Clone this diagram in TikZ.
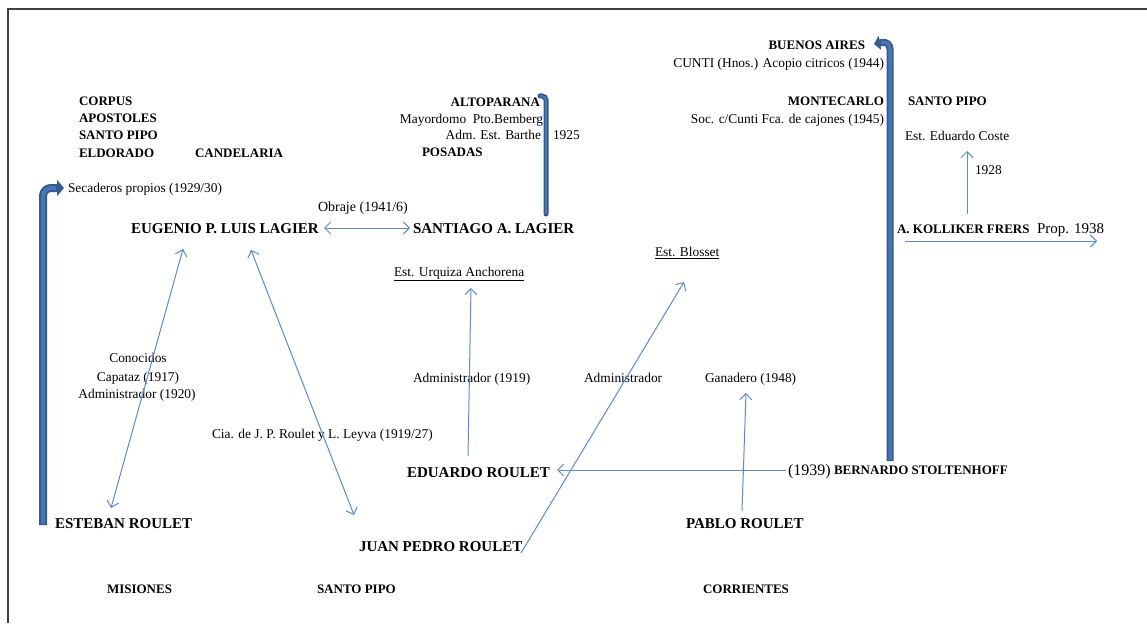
\documentclass[tikz,border=0pt]{standalone}
\usepackage{fontspec}
\setmainfont{Liberation Serif}
\usetikzlibrary{arrows.meta}
\definecolor{lblue}{HTML}{5A8BCB}
\definecolor{dblue}{HTML}{33598E}
\definecolor{mblue}{HTML}{4A76B2}
\definecolor{framec}{HTML}{404040}
\tikzset{
  txtbase/.style={inner sep=0pt, outer sep=0pt, text=black},
  bigname/.style={txtbase, font=\bfseries\fontsize{15}{18}\selectfont, text height=10pt, text depth=0pt},
  placelbl/.style={txtbase, font=\bfseries\fontsize{13}{16}\selectfont, text height=8.6pt, text depth=0pt},
  smalllbl/.style={txtbase, font=\fontsize{13.4}{16}\selectfont, text height=8.8pt, text depth=0pt},
  thinarrow/.style={draw=lblue, line width=1pt},
  onetip/.style={-{Straight Barb[length=6pt,width=12pt,line width=1pt]}},
  twotip/.style={{Straight Barb[length=6pt,width=12pt,line width=1pt]}-{Straight Barb[length=6pt,width=12pt,line width=1pt]}},
  bigarrow/.style={draw=dblue, line width=7pt, rounded corners=8pt},
  biginner/.style={draw=mblue, line width=3.5pt, rounded corners=8pt},
}
\begin{document}
\begin{tikzpicture}[x=1pt,y=-1pt]
\useasboundingbox (0,0) rectangle (1147,623);
% frame
\draw[framec, line width=1.3pt] (8,623) -- (8,9) -- (1147,9);

% places
\node[placelbl, anchor=west] (corpus) at (79,101) {CORPUS};
\node[placelbl, anchor=west] (apostoles) at (79,118) {APOSTOLES};
\node[placelbl, anchor=west] (spipoA) at (79,135) {SANTO PIPO};
\node[placelbl, anchor=west] (eldorado) at (79,153) {ELDORADO};
\node[placelbl, anchor=west] (candelaria) at (195,153) {CANDELARIA};
\node[placelbl, anchor=east] (altoparana) at (540,102) {ALTOPARANA};
\node[placelbl, anchor=west] (posadas) at (422,152) {POSADAS};
\node[placelbl, anchor=east] (buenosaires) at (865,45) {BUENOS AIRES};
\node[placelbl, anchor=east] (montecarlo) at (884,101) {MONTECARLO};
\node[placelbl, anchor=west] (spipoB) at (908,101) {SANTO PIPO};
\node[placelbl, anchor=west] (misiones) at (107,589) {MISIONES};
\node[placelbl, anchor=west] (spipoC) at (317,589) {SANTO PIPO};
\node[placelbl, anchor=west] (corrientes) at (703,589) {CORRIENTES};

% small labels
\node[smalllbl, anchor=west] (secaderos) at (68,188) {Secaderos propios (1929/30)};
\node[smalllbl, anchor=east] (mayordomo) at (543,119) {Mayordomo\ \ Pto.Bemberg};
\node[smalllbl, anchor=east] (barthe) at (541,135) {Adm. Est. Barthe};
\node[smalllbl, anchor=west] (y1925) at (553,135) {1925};
\node[smalllbl, anchor=east] (cunti) at (884,63) {CUNTI (Hnos.) Acopio citricos (1944)};
\node[smalllbl, anchor=east] (soc) at (884,119) {Soc. c/Cunti Fca. de cajones (1945)};
\node[smalllbl, anchor=west] (coste) at (905,136) {Est. Eduardo Coste};
\node[smalllbl, anchor=west] (y1928) at (975,170) {1928};
\node[smalllbl, anchor=west] (urquiza) at (394,272) {\underline{Est. Urquiza Anchorena}};
\node[smalllbl, anchor=west] (blosset) at (655,252) {\underline{Est. Blosset}};
\node[smalllbl] (conocidos) at (138,358) {Conocidos};
\node[smalllbl] (capataz) at (138,377) {Capataz (1917)};
\node[smalllbl] (adm1920) at (137,394) {Administrador (1920)};
\node[smalllbl, anchor=west] (cia) at (212,434) {Cia. de J. P. Roulet y L. Leyva (1919/27)};
\node[smalllbl, anchor=west] (adm1919) at (413,378) {Administrador (1919)};
\node[smalllbl, anchor=west] (adm) at (584,378) {Administrador};
\node[smalllbl, anchor=west] (ganadero) at (705,378) {Ganadero (1948)};
\node[smalllbl, anchor=west, font=\fontsize{14}{17}\selectfont] (obraje) at (318,207) {Obraje (1941/6)};
\node[smalllbl, anchor=west, font=\fontsize{15}{18}\selectfont] (prop) at (1037,229) {Prop. 1938};
\node[smalllbl, anchor=west, font=\fontsize{16}{19}\selectfont, text height=10.5pt] (y1939) at (788,470) {(1939)};

% names
\node[bigname, anchor=west] (eugenio) at (131,228) {EUGENIO P. LUIS LAGIER};
\node[bigname, anchor=west] (santiago) at (413,228) {SANTIAGO A. LAGIER};
\node[bigname, anchor=west] (esteban) at (55,523) {ESTEBAN ROULET};
\node[bigname, anchor=west] (juan) at (359,546) {JUAN PEDRO ROULET};
\node[bigname, anchor=west] (eduardo) at (407,472) {EDUARDO ROULET};
\node[bigname, anchor=west] (pablo) at (686,523) {PABLO ROULET};
\node[placelbl, anchor=west] (kolliker) at (897,229) {A. KOLLIKER FRERS};
\node[placelbl, anchor=west] (bernardo) at (834,470) {BERNARDO STOLTENHOFF};

% connector end points
\coordinate (eugS1) at (183,249);
\coordinate (estN) at (111,508);
\coordinate (eugS2) at (251,250);
\coordinate (juanN) at (354,515);
\coordinate (eduN) at (468,456);
\coordinate (urqS) at (471,288);
\coordinate (juanE) at (521,553);
\coordinate (bloS) at (684,282);
\coordinate (pabN) at (742,511);
\coordinate (ganS) at (746,393);
\coordinate (kolN) at (967,214);
\coordinate (cosS) at (967,151);
\coordinate (kolS) at (905,241);
\coordinate (kolR) at (1097,241);
\coordinate (eugE) at (324,228);
\coordinate (sanW) at (410,228);
\coordinate (berW) at (786,470);
\coordinate (eduE) at (557,470);
\coordinate (estBar) at (43,525);
\coordinate (secW) at (64,188);
\coordinate (berBar) at (890,461);
\coordinate (buaE) at (874,44);
\coordinate (sanBar) at (546,214);
\coordinate (altE) at (540,96);

% thin connectors
\draw[thinarrow, twotip] (eugE) -- (sanW);
\draw[thinarrow, twotip] (eugS1) -- (estN);
\draw[thinarrow, twotip] (eugS2) -- (juanN);
\draw[thinarrow, onetip] (eduN) -- (urqS);
\draw[thinarrow, onetip] (juanE) -- (bloS);
\draw[thinarrow, onetip] (pabN) -- (ganS);
\draw[thinarrow, onetip] (kolN) -- (cosS);
\draw[thinarrow, onetip] (kolS) -- (kolR);
\draw[thinarrow, onetip] (berW) -- (eduE);

% thick bent arrows
\draw[bigarrow, line width=8pt, -{Triangle[length=7pt,width=16pt]}] (estBar) -- (43,188) -- (secW);
\draw[biginner, line width=4pt, shorten <=1pt, shorten >=8pt] (estBar) -- (43,188) -- (secW);
\draw[bigarrow, -{Triangle[length=6pt,width=14pt]}] (berBar) -- (890,41) -- (buaE);
\draw[biginner, shorten <=1pt, shorten >=7pt] (berBar) -- (890,41) -- (buaE);
\draw[bigarrow, line width=5pt, rounded corners=4pt, line cap=round] (sanBar) -- (546,96) -- (altE);
\draw[biginner, line width=2pt, rounded corners=4pt] (sanBar) -- (546,96) -- (altE);
\end{tikzpicture}
\end{document}
